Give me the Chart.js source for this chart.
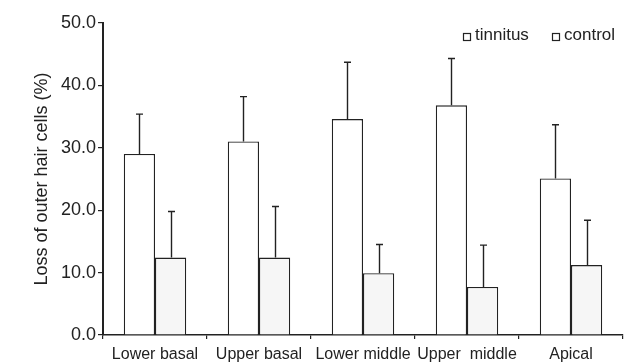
<!DOCTYPE html>
<html>
<head>
<meta charset="utf-8">
<script src="https://cdn.jsdelivr.net/npm/chart.js@4.4.1/dist/chart.umd.min.js"></script>
<style>
  html, body { margin: 0; padding: 0; background: #fff; }
  #wrap { width: 638px; height: 363px; position: relative; }
</style>
</head>
<body>
<div id="wrap"><canvas id="c" width="638" height="363"></canvas></div>
<script>
const categories = ['Lower basal', 'Upper basal', 'Lower middle', 'Upper  middle', 'Apical'];
const tinnitus = [29.0, 31.0, 34.6, 36.8, 25.1];
const tinnitusErrTop = [35.4, 38.2, 43.7, 44.3, 33.7];
const control = [12.4, 12.4, 9.9, 7.7, 11.2];
const controlErrTop = [19.8, 20.6, 14.5, 14.4, 18.4];
const yTicks = [0, 10, 20, 30, 40, 50];

const FONT = "'Liberation Sans', Arial, Helvetica, sans-serif";
const INK = '#222';

const errorBars = {
  id: 'errorBars',
  afterDatasetsDraw(chart) {
    const ctx = chart.ctx;
    const y = chart.scales.y;
    const tops = [tinnitusErrTop, controlErrTop];
    ctx.save();
    ctx.strokeStyle = INK;
    ctx.lineWidth = 1.4;
    chart.data.datasets.forEach((ds, di) => {
      const meta = chart.getDatasetMeta(di);
      meta.data.forEach((bar, i) => {
        const x = Math.round(bar.x) + 0.5;
        const yb = bar.y;
        const yt = y.getPixelForValue(tops[di][i]);
        ctx.beginPath();
        ctx.moveTo(x, yb);
        ctx.lineTo(x, yt);
        ctx.moveTo(x - 3.5, yt);
        ctx.lineTo(x + 3.5, yt);
        ctx.stroke();
      });
    });
    ctx.restore();
  }
};

// simple legend drawn in the upper right of the plot area
const boxLegend = {
  id: 'boxLegend',
  afterDraw(chart) {
    const ctx = chart.ctx;
    const area = chart.chartArea;
    const baseline = area.top + 17;
    const starts = [area.right - 160, area.right - 71];
    ctx.save();
    ctx.font = '17px ' + FONT;
    ctx.textBaseline = 'alphabetic';
    ctx.strokeStyle = INK;
    ctx.lineWidth = 1.2;
    chart.data.datasets.forEach((ds, i) => {
      const x0 = starts[i];
      ctx.fillStyle = '#fff';
      ctx.fillRect(x0 + 0.5, baseline - 6.5, 7, 7);
      ctx.strokeRect(x0 + 0.5, baseline - 6.5, 7, 7);
      ctx.fillStyle = INK;
      ctx.fillText(ds.label, x0 + 12, baseline);
    });
    ctx.restore();
  }
};

new Chart(document.getElementById('c'), {
  type: 'bar',
  data: {
    labels: categories,
    datasets: [
      {
        label: 'tinnitus',
        data: tinnitus,
        backgroundColor: '#ffffff',
        borderColor: INK,
        borderWidth: 1.3,
        categoryPercentage: 0.6,
        barPercentage: 1.0
      },
      {
        label: 'control',
        data: control,
        backgroundColor: '#f6f6f6',
        borderColor: INK,
        borderWidth: 1.3,
        categoryPercentage: 0.6,
        barPercentage: 1.0
      }
    ]
  },
  options: {
    responsive: false,
    animation: false,
    devicePixelRatio: 1,
    layout: { padding: { left: 31, right: 15, top: 23, bottom: 0 } },
    plugins: {
      tooltip: { enabled: false },
      legend: { display: false }
    },
    scales: {
      x: {
        type: 'category',
        offset: true,
        border: { display: true, color: INK, width: 1.5 },
        grid: { display: true, offset: true, drawOnChartArea: false, drawTicks: true, tickLength: 4, color: INK, lineWidth: 1.2 },
        ticks: { color: INK, font: { family: FONT, size: 16 }, padding: 6, maxRotation: 0, autoSkip: false },
        afterFit(scale) { scale.height = 28; }
      },
      y: {
        min: 0,
        max: 50,
        afterBuildTicks(scale) { scale.ticks = yTicks.map(v => ({ value: v })); },
        border: { display: true, color: INK, width: 2 },
        grid: { display: true, drawOnChartArea: false, drawTicks: true, tickLength: 5, color: INK, lineWidth: 1.2 },
        ticks: {
          color: INK,
          font: { family: FONT, size: 18 },
          padding: 2,
          callback: v => Number(v).toFixed(1)
        },
        title: {
          display: true,
          text: 'Loss of outer hair cells (%)',
          color: INK,
          font: { family: FONT, size: 18 },
          padding: { top: 0, bottom: 4 }
        },
        afterFit(scale) { scale.width = 72; }
      }
    }
  },
  plugins: [errorBars, boxLegend]
});
</script>
</body>
</html>
